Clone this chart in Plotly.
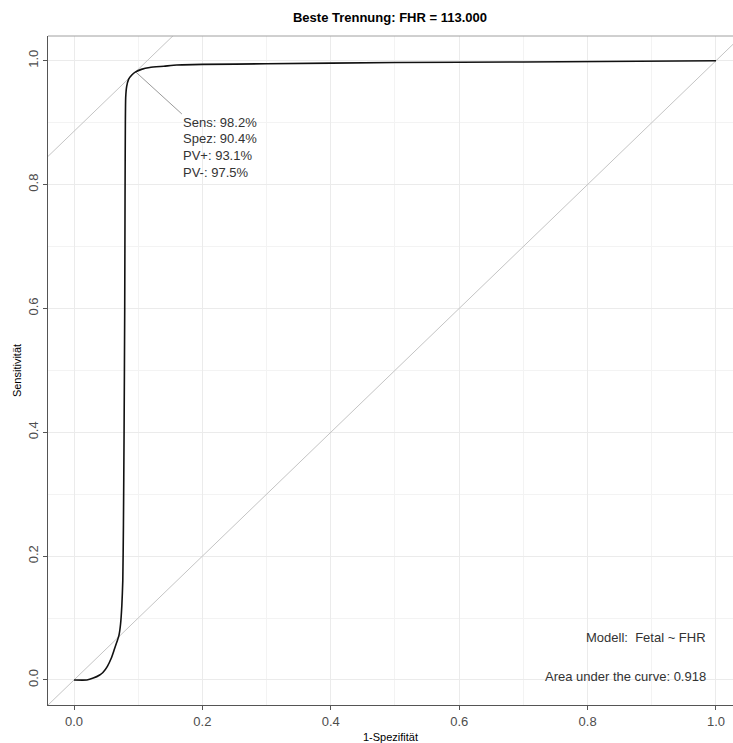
import plotly.graph_objects as go

# ROC curve
fpr = [0.0, 0.02, 0.03, 0.04, 0.045, 0.052, 0.058, 0.063, 0.067, 0.070, 0.0725, 0.0745,
       0.076, 0.077, 0.078, 0.079, 0.0795, 0.080, 0.0805, 0.082, 0.085, 0.090, 0.096,
       0.105, 0.118, 0.14, 0.16, 0.2, 0.3, 0.5, 0.7, 1.0]
tpr = [0.0, 0.0, 0.003, 0.008, 0.012, 0.022, 0.035, 0.050, 0.062, 0.072, 0.09, 0.12,
       0.16, 0.25, 0.40, 0.60, 0.78, 0.90, 0.94, 0.958, 0.970, 0.977, 0.982,
       0.986, 0.989, 0.991, 0.993, 0.994, 0.995, 0.997, 0.998, 1.0]

best_x = 0.096   # 1 - Spez
best_y = 0.982   # Sens
label_end = (0.168, 0.914)
labels = ["Sens: 98.2%", "Spez: 90.4%", "PV+: 93.1%", "PV-: 97.5%"]
label_y = [0.901, 0.874, 0.847, 0.820]

diag_x = [-0.1, 1.1]
tang_x = [-0.1, 0.3]

title = "Beste Trennung: FHR = 113.000"
model_txt = "Modell:  Fetal ~ FHR"
auc_txt = "Area under the curve: 0.918"
ticks = [0.0, 0.2, 0.4, 0.6, 0.8, 1.0]
tick_text = ["0.0", "0.2", "0.4", "0.6", "0.8", "1.0"]

FONT = "Liberation Sans, Arial, sans-serif"
fig = go.Figure()
fig.add_trace(go.Scatter(x=diag_x, y=diag_x, mode="lines",
                         line=dict(color="#c4c4c4", width=1), hoverinfo="skip"))
fig.add_trace(go.Scatter(x=tang_x, y=[v + best_y - best_x for v in tang_x], mode="lines",
                         line=dict(color="#c4c4c4", width=1), hoverinfo="skip"))
fig.add_trace(go.Scatter(x=[best_x, label_end[0]], y=[best_y, label_end[1]], mode="lines",
                         line=dict(color="#9a9a9a", width=1), hoverinfo="skip"))
fig.add_trace(go.Scatter(x=fpr, y=tpr, mode="lines",
                         line=dict(color="#111111", width=1.6, shape="spline", smoothing=0.5)))

for t, yv in zip(labels, label_y):
    fig.add_annotation(x=0.166, y=yv, text=t, showarrow=False, xanchor="left",
                       yanchor="middle", font=dict(family=FONT, size=13, color="#333333"))
fig.add_annotation(x=0.988, y=0.068, text=model_txt, showarrow=False, xanchor="right",
                   yanchor="middle", font=dict(family=FONT, size=13, color="#333333"))
fig.add_annotation(x=0.988, y=0.005, text=auc_txt, showarrow=False, xanchor="right",
                   yanchor="middle", font=dict(family=FONT, size=13, color="#333333"))

fig.add_shape(type="line", xref="paper", yref="paper", x0=0, x1=1, y0=1, y1=1,
              line=dict(color="#a0a0a0", width=1))

axis_common = dict(tickvals=ticks, ticktext=tick_text, showgrid=True, gridcolor="#ebebeb",
                   gridwidth=1, zeroline=False, showline=True, linecolor="#555555",
                   linewidth=1, ticks="outside", ticklen=4, tickcolor="#555555",
                   tickfont=dict(family=FONT, size=13, color="#4d4d4d"),
                   minor=dict(dtick=0.1, tick0=0.1, showgrid=True, gridcolor="#f3f3f3", gridwidth=1))
fig.update_xaxes(range=[-0.0405, 1.0265], title=dict(text="1-Spezifität",
                 font=dict(family=FONT, size=11, color="#000000"), standoff=6), **axis_common)
fig.update_yaxes(range=[-0.0404, 1.0399], tickangle=-90, title=dict(text="Sensitivität",
                 font=dict(family=FONT, size=11, color="#000000"), standoff=1), **axis_common)

fig.update_layout(
    width=733, height=743, showlegend=False,
    margin=dict(l=48, r=0, t=36, b=38),
    plot_bgcolor="white", paper_bgcolor="white",
    title=dict(text="<b>" + title + "</b>", x=0.532, xanchor="center", y=0.977, yanchor="middle",
               font=dict(family=FONT, size=13, color="#000000")),
)
fig.write_html("out.html")
